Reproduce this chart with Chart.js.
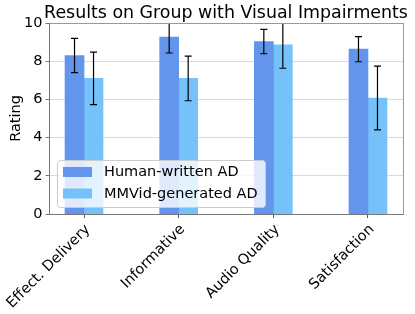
<!DOCTYPE html>
<html>
<head>
<meta charset="utf-8">
<script src="https://cdn.jsdelivr.net/npm/chart.js@4.4.0/dist/chart.umd.min.js"></script>
<style>
  html, body { margin: 0; padding: 0; background: #fff; }
  #wrap { width: 415px; height: 314px; }
</style>
</head>
<body>
<div id="wrap"><canvas id="ratingChart" width="415" height="314"></canvas></div>
<script>
// categories and values
const categories = ['Effect. Delivery', 'Informative', 'Audio Quality', 'Satisfaction'];
const humanMeans = [8.3, 9.26, 9.03, 8.63];
const humanErr = [0.9, 0.83, 0.64, 0.66];
const mmvidMeans = [7.1, 7.1, 8.86, 6.07];
const mmvidErr = [1.37, 1.17, 1.23, 1.67];
const yTicks = [0, 2, 4, 6, 8, 10];

const FONT = 'DejaVu Sans';
const HUMAN_COLOR = '#6495ED';
const MMVID_COLOR = '#75C1FA';

// error bars, frame, title and legend drawn on top of the bars
const extrasPlugin = {
    id: 'extras',
    afterDatasetsDraw(chart) {
        const ctx = chart.ctx;
        const area = chart.chartArea;
        const yScale = chart.scales.y;

        // error bars (clipped to the plot area like matplotlib)
        ctx.save();
        ctx.beginPath();
        ctx.rect(area.left, area.top, area.right - area.left, area.bottom - area.top);
        ctx.clip();
        ctx.strokeStyle = '#000';
        ctx.lineWidth = 1.2;
        chart.data.datasets.forEach((ds, di) => {
            const meta = chart.getDatasetMeta(di);
            meta.data.forEach((bar, i) => {
                const x = bar.x;
                const yTop = yScale.getPixelForValue(ds.data[i].y + ds.errors[i]);
                const yBot = yScale.getPixelForValue(ds.data[i].y - ds.errors[i]);
                ctx.beginPath();
                ctx.moveTo(x, yTop); ctx.lineTo(x, yBot);
                ctx.moveTo(x - 3.5, yTop); ctx.lineTo(x + 3.5, yTop);
                ctx.moveTo(x - 3.5, yBot); ctx.lineTo(x + 3.5, yBot);
                ctx.stroke();
            });
        });
        ctx.restore();
    },
    afterDraw(chart) {
        const ctx = chart.ctx;
        const area = chart.chartArea;

        // legend box, lower left inside the plot
        ctx.save();
        const lx = area.left + 8, ly = 160, lw = 208, lh = 47;
        ctx.fillStyle = 'rgba(255,255,255,0.8)';
        ctx.strokeStyle = '#cccccc';
        ctx.lineWidth = 1;
        ctx.beginPath();
        ctx.roundRect(lx + 0.5, ly + 0.5, lw, lh, 3);
        ctx.fill();
        ctx.stroke();
        ctx.font = '14.5px "' + FONT + '"';
        ctx.textBaseline = 'middle';
        ctx.fillStyle = '#000';
        chart.data.datasets.forEach((ds, di) => {
            const rowY = ly + 12 + di * 21.5;
            ctx.fillStyle = ds.backgroundColor;
            ctx.fillRect(lx + 6, rowY - 5, 29, 10);
            ctx.fillStyle = '#000';
            ctx.fillText(ds.label, lx + 47, rowY + 0.5);
        });
        ctx.restore();

        // frame round the plot
        ctx.save();
        ctx.lineWidth = 1;
        ctx.strokeStyle = '#999999';
        ctx.strokeRect(area.left + 0.5, area.top + 0.5, area.right - area.left, area.bottom - area.top);
        ctx.strokeStyle = '#777777';
        ctx.beginPath();
        ctx.moveTo(area.left + 0.5, area.top);
        ctx.lineTo(area.left + 0.5, area.bottom + 0.5);
        ctx.lineTo(area.right, area.bottom + 0.5);
        ctx.stroke();
        ctx.restore();

        // title
        ctx.save();
        ctx.font = '17.4px "' + FONT + '"';
        ctx.fillStyle = '#000';
        ctx.textAlign = 'center';
        ctx.textBaseline = 'alphabetic';
        ctx.fillText('Results on Group with Visual Impairments', (area.left + area.right) / 2, 18);
        ctx.restore();
    }
};

const ctx = document.getElementById('ratingChart').getContext('2d');

new Chart(ctx, {
    type: 'bar',
    data: {
        datasets: [{
            label: 'Human-written AD',
            data: humanMeans.map((v, i) => ({ x: i, y: v })),
            errors: humanErr,
            backgroundColor: HUMAN_COLOR,
            barThickness: 19,
        }, {
            label: 'MMVid-generated AD',
            data: mmvidMeans.map((v, i) => ({ x: i, y: v })),
            errors: mmvidErr,
            backgroundColor: MMVID_COLOR,
            barThickness: 19,
        }]
    },
    options: {
        responsive: false,
        animation: false,
        events: [],
        layout: { padding: { top: 23, right: 12, left: 0, bottom: 0 } },
        plugins: {
            legend: { display: false },
            title: { display: false },
            tooltip: { enabled: false },
        },
        scales: {
            x: {
                type: 'linear',
                min: -0.37,
                max: 3.37,
                offset: false,
                afterBuildTicks: axis => { axis.ticks = categories.map((c, i) => ({ value: i })); },
                afterFit: axis => {
                    axis.height = 100;
                    axis.paddingLeft = 0;
                    axis.paddingRight = 0;
                },
                border: { display: false },
                grid: { offset: false, drawOnChartArea: false, tickLength: 4, color: '#555', tickBorderDash: [] },
                ticks: {
                    autoSkip: false,
                    minRotation: 45,
                    maxRotation: 45,
                    padding: 3,
                    labelOffset: 4,
                    color: '#000',
                    font: { family: FONT, size: 14.5 },
                    callback: value => categories[value],
                },
            },
            y: {
                min: 0,
                max: 10,
                afterBuildTicks: axis => { axis.ticks = yTicks.map(v => ({ value: v })); },
                afterFit: axis => { axis.width = 49; },
                border: { display: false },
                grid: {
                    color: '#d0d0d0',
                    lineWidth: 0.8,
                    borderDash: [2, 2],
                    tickLength: 3.5,
                    tickColor: '#555',
                    tickBorderDash: [0, 0],
                },
                ticks: {
                    padding: 3,
                    color: '#000',
                    font: { family: FONT, size: 14.5 },
                },
                title: {
                    display: true,
                    text: 'Rating',
                    color: '#000',
                    font: { family: FONT, size: 14.5 },
                    padding: { top: 8, bottom: 0 },
                },
            },
        },
    },
    plugins: [extrasPlugin],
});
</script>
</body>
</html>
